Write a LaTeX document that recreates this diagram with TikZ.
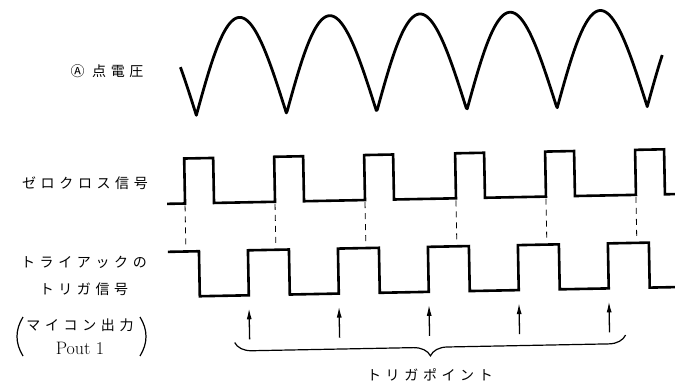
\documentclass[tikz,border=0pt]{standalone}
\usepackage{fontspec}
\usetikzlibrary{arrows.meta,decorations.pathreplacing}
\newfontfamily\jpfont[LetterSpace=33]{Noto Sans CJK JP}

\begin{document}
\begin{tikzpicture}[x=1pt,y=-1pt,
  sig/.style={line width=2.6pt,line join=miter,draw=black},
  wave/.style={line width=2.8pt,line join=round},
  guide/.style={line width=0.8pt,dash pattern=on 6pt off 5pt},
  arr/.style={-{Latex[length=11pt,width=5pt]},line width=1.3pt},
  brc/.style={decorate,decoration={brace,mirror,amplitude=17pt},line width=1.2pt},
  par/.style={line width=1.2pt},
  lbl/.style={font=\jpfont\fontsize{14}{27}\selectfont,align=center,inner sep=0pt}
]
  \useasboundingbox (0,0) rectangle (675,390);

  % Labels
  \node[lbl] (lblA) at (107,71) {Ⓐ 点電圧};
  \node[lbl] (lblZC) at (85,183) {ゼロクロス信号};
  \node[lbl] (lblTR) at (84,276) {トライアックの\\トリガ信号};
  \node[lbl,font=\jpfont\fontsize{14}{24}\selectfont] (lblMC) at (80,337)
    {マイコン出力\\{\rmfamily\fontsize{18}{24}\selectfont Pout 1}};
  \node[lbl] (lblTP) at (430,375) {トリガポイント};
  \draw[par] (23,317) .. controls (15,330) and (15,343) .. (23,356);
  \draw[par] (140,317) .. controls (148,330) and (148,343) .. (140,356);

  \begin{scope}[rotate around={1.1:(420,200)}]
  % Voltage at A
  \draw[wave] plot[domain=183:665,samples=483] (\x,{111-97*abs(sin((\x-198)*1.99557))});

  % Zero cross
  \draw[sig] (167,199) -- (185,199) -- (185,154) -- (214,154) -- (214,199)
    -- (275,199) -- (275,154) -- (304,154) -- (304,199)
    -- (365,199) -- (365,154) -- (394,154) -- (394,199)
    -- (456,199) -- (456,154) -- (485,154) -- (485,199)
    -- (546,199) -- (546,154) -- (575,154) -- (575,199)
    -- (636,199) -- (636,154) -- (665,154) -- (665,199) -- (676,199);

  % Triac trigger
  \draw[sig] (167,247) -- (198,247) -- (198,292) -- (247,292) -- (247,247)
    -- (288,247) -- (288,292) -- (337,292) -- (337,247)
    -- (378,247) -- (378,292) -- (427,292) -- (427,247)
    -- (468,247) -- (468,292) -- (517,292) -- (517,247)
    -- (558,247) -- (558,292) -- (607,292) -- (607,247)
    -- (648,247) -- (648,292) -- (676,292);

  % Guides
  \coordinate (g1a) at (185,201); \coordinate (g1b) at (185,245);
  \coordinate (g2a) at (275,201); \coordinate (g2b) at (275,245);
  \coordinate (g3a) at (365,201); \coordinate (g3b) at (365,245);
  \coordinate (g4a) at (456,201); \coordinate (g4b) at (456,245);
  \coordinate (g5a) at (546,201); \coordinate (g5b) at (546,245);
  \coordinate (g6a) at (636,201); \coordinate (g6b) at (636,245);
  \draw[guide] (g1a) -- (g1b); \draw[guide] (g2a) -- (g2b); \draw[guide] (g3a) -- (g3b);
  \draw[guide] (g4a) -- (g4b); \draw[guide] (g5a) -- (g5b); \draw[guide] (g6a) -- (g6b);

  % Trigger points
  \coordinate (t1a) at (247,336); \coordinate (t1b) at (247,305);
  \coordinate (t2a) at (337,336); \coordinate (t2b) at (337,305);
  \coordinate (t3a) at (427,336); \coordinate (t3b) at (427,305);
  \coordinate (t4a) at (517,336); \coordinate (t4b) at (517,305);
  \coordinate (t5a) at (607,336); \coordinate (t5b) at (607,305);
  \draw[arr] (t1a) -- (t1b); \draw[arr] (t2a) -- (t2b); \draw[arr] (t3a) -- (t3b);
  \draw[arr] (t4a) -- (t4b); \draw[arr] (t5a) -- (t5b);

  \coordinate (bl) at (232,339); \coordinate (br) at (623,339);
  \draw[brc] (bl) -- (br);
  \end{scope}
\end{tikzpicture}
\end{document}
